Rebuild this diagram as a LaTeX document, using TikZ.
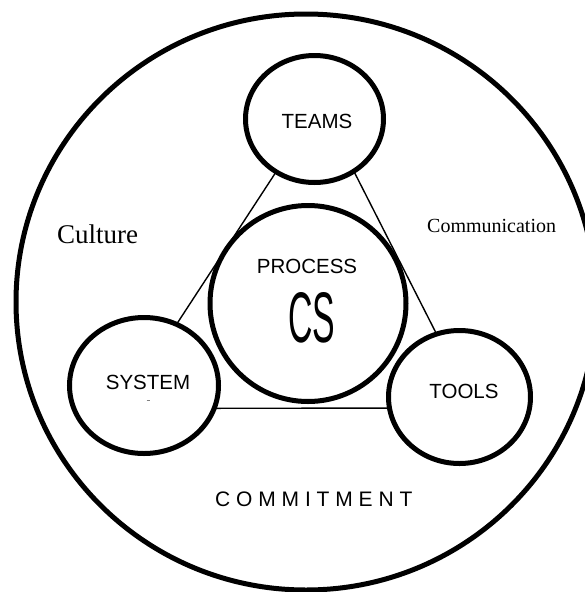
\documentclass[tikz,border=0pt]{standalone}
\usepackage{fontspec}
\usepackage{graphicx}
\setmainfont{Liberation Serif}
\setsansfont{Liberation Sans}
\usetikzlibrary{shapes.geometric}
\begin{document}
\begin{tikzpicture}[x=1pt,y=-1pt,
  ring/.style={draw, line width=5pt, ellipse, inner sep=0pt, outer sep=0pt, fill=white},
  link/.style={line width=1.4pt},
  tag/.style={inner sep=0pt, font=\sffamily\fontsize{20.5}{24}\selectfont},
  word/.style={inner sep=0pt, anchor=base west},
]
\useasboundingbox (0,0) rectangle (585,592);
\clip (0,0) rectangle (585,592);

% outer boundary
\node[ring, minimum width=580pt, minimum height=576pt] (world) at (306,302) {};

% the three satellite circles
\node[ring, minimum width=138pt, minimum height=127pt] (teams) at (314.5,119) {};
\node[ring, minimum width=149pt, minimum height=136pt] (system) at (144,385.5) {};
\node[ring, minimum width=142pt, minimum height=133pt] (tools) at (459.5,397) {};

% triangle of links
\draw[link] (teams.-126.9) -- (system.62);
\draw[link] (teams.-53.6) -- (tools.110.8);
\draw[link] (system.-18.7) -- (tools.-171.5);

% central circle on top of the links
\node[ring, minimum width=196pt, minimum height=196pt] (process) at (308,303.5) {};

% labels
\node[tag] (teamsLabel) at (317,121) {TEAMS};
\node[tag] (processLabel) at (307,266) {PROCESS};
\node[inner sep=0pt] (csLabel) at (312,318) {\resizebox{47pt}{50pt}{\sffamily CS}};
\node[tag] (systemLabel) at (148,382) {SYSTEM};
\node[tag] (toolsLabel) at (464,391) {TOOLS};
\draw[gray, line width=0.8pt] (146.5,400) -- (149.5,400);

\node[word, font=\fontsize{27}{32}\selectfont] (culture) at (57,243) {Culture};
\node[word, font=\fontsize{20}{24}\selectfont] (communication) at (427,232) {Communication};
\node[word, font=\sffamily\fontsize{21}{25}\selectfont] (commitment) at (215,506) {C O M M I T M E N T};
\end{tikzpicture}
\end{document}
